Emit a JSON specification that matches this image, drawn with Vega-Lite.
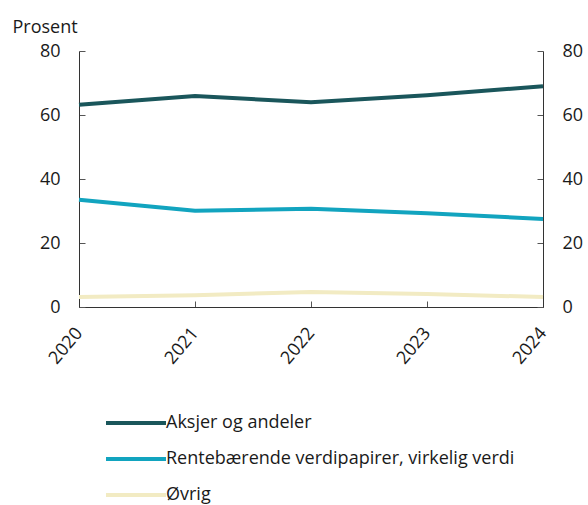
{
  "$schema": "https://vega.github.io/schema/vega-lite/v6.json",
  "autosize": {"type": "none"},
  "width": 464,
  "height": 256,
  "padding": {"left": 79, "top": 51, "right": 45, "bottom": 198},
  "background": "white",
  "config": {
    "font": "Open Sans",
    "view": {"stroke": null},
    "axis": {"labelFont": "Open Sans", "labelFontSize": 18, "labelColor": "#1a1a1a", "domainColor": "#333333", "tickColor": "#555555", "grid": false}
  },
  "data": {
    "values": [
      {"year": "2020", "series": "Aksjer og andeler", "value": 63.2},
      {"year": "2021", "series": "Aksjer og andeler", "value": 65.9},
      {"year": "2022", "series": "Aksjer og andeler", "value": 64.0},
      {"year": "2023", "series": "Aksjer og andeler", "value": 66.2},
      {"year": "2024", "series": "Aksjer og andeler", "value": 69.0},
      {"year": "2020", "series": "Rentebærende verdipapirer, virkelig verdi", "value": 33.5},
      {"year": "2021", "series": "Rentebærende verdipapirer, virkelig verdi", "value": 30.1},
      {"year": "2022", "series": "Rentebærende verdipapirer, virkelig verdi", "value": 30.7},
      {"year": "2023", "series": "Rentebærende verdipapirer, virkelig verdi", "value": 29.3},
      {"year": "2024", "series": "Rentebærende verdipapirer, virkelig verdi", "value": 27.5},
      {"year": "2020", "series": "Øvrig", "value": 3.1},
      {"year": "2021", "series": "Øvrig", "value": 3.7},
      {"year": "2022", "series": "Øvrig", "value": 4.7},
      {"year": "2023", "series": "Øvrig", "value": 4.1},
      {"year": "2024", "series": "Øvrig", "value": 3.1}
    ]
  },
  "encoding": {
    "x": {
      "field": "year", "type": "ordinal",
      "scale": {"type": "point", "padding": 0},
      "axis": {"title": null, "labelAngle": -50, "labelAlign": "right", "labelBaseline": "middle", "tickSize": -6, "labelPadding": 29, "domainColor": "#333333"}
    }
  },
  "layer": [
    {
      "mark": {"type": "line", "strokeWidth": 4, "strokeCap": "butt"},
      "encoding": {
        "y": {
          "field": "value", "type": "quantitative",
          "scale": {"domain": [0, 80], "nice": false},
          "axis": {"values": [0, 20, 40, 60, 80], "tickSize": -6, "labelPadding": 25, "title": "Prosent", "titleAngle": 0, "titleX": -67, "titleY": -19, "titleAlign": "left", "titleBaseline": "alphabetic", "titleFont": "Open Sans", "titleFontSize": 18, "titleFontWeight": "normal", "titleColor": "#1a1a1a"}
        },
        "color": {
          "field": "series", "type": "nominal",
          "sort": ["Aksjer og andeler", "Rentebærende verdipapirer, virkelig verdi", "Øvrig"],
          "scale": {"domain": ["Aksjer og andeler", "Rentebærende verdipapirer, virkelig verdi", "Øvrig"], "range": ["#1a565b", "#12a4bf", "#f2ebc3"]},
          "legend": {"title": null, "orient": "none", "legendX": 40, "legendY": 355, "direction": "vertical", "symbolType": "M-2,0H2", "symbolStrokeWidth": 4, "symbolSize": 900, "labelFont": "Open Sans", "labelFontSize": 18, "labelColor": "#1a1a1a", "labelOffset": 13, "labelLimit": 500, "rowPadding": 10}
        }
      }
    },
    {
      "mark": {"type": "line", "opacity": 0},
      "encoding": {
        "y": {
          "field": "value", "type": "quantitative",
          "scale": {"domain": [0, 80], "nice": false},
          "axis": {"orient": "right", "values": [0, 20, 40, 60, 80], "tickSize": -6, "labelPadding": 25, "title": null}
        },
        "detail": {"field": "series"}
      }
    }
  ],
  "resolve": {"scale": {"y": "independent"}}
}
